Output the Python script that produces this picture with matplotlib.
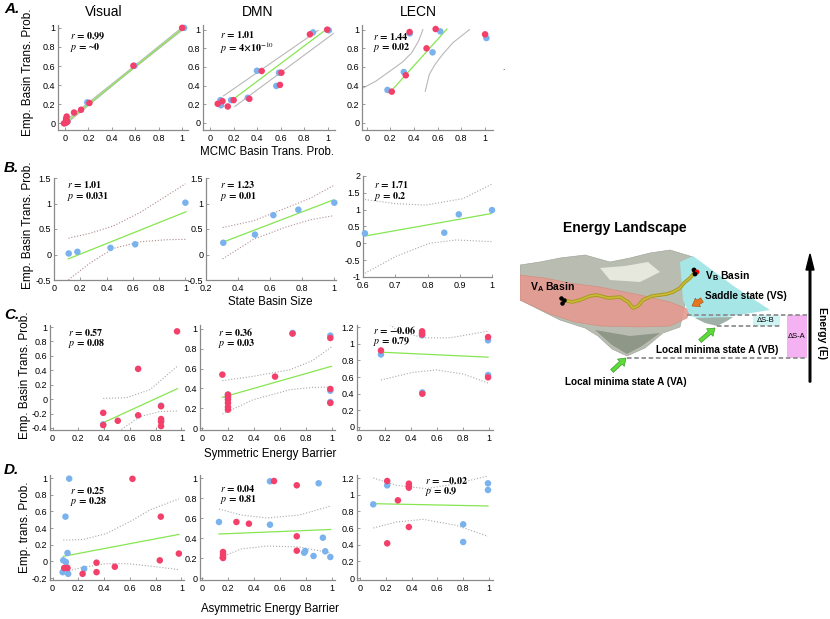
import numpy as np
import matplotlib.pyplot as plt
from matplotlib.patches import Polygon, Rectangle, FancyArrow

plt.rcParams['font.family'] = ['Liberation Sans', 'DejaVu Sans']
plt.rcParams['mathtext.fontset'] = 'stix'

W, H = 830, 619
RED = '#F2406A'
BLUE = '#7AB2EE'
GREEN = '#86E650'
GRAY = '#A8A8A8'

# ---------------- data (x, y) ----------------
# Row A: empirical vs MCMC basin transition probability
a_vis_blue = [(1.017, 1.0), (0.593, 0.603), (0.19, 0.22), (0.01, 0.035), (0.02, 0.018), (0.0, 0.0)]
a_vis_red = [(1.0, 1.0), (0.584, 0.603), (0.208, 0.213), (0.137, 0.142), (0.077, 0.113),
             (0.014, 0.071), (0.009, 0.046), (0.02, 0.018), (-0.009, 0.0), (0.009, 0.007)]
a_vis_fit = [(-0.01, -0.007), (1.01, 1.0)]
a_vis_ci_hi = [(-0.01, 0.012), (0.5, 0.51), (1.01, 1.015)]
a_vis_ci_lo = [(-0.01, -0.025), (0.5, 0.49), (1.01, 0.985)]

a_dmn_blue = [(0.088, 0.245), (0.093, 0.19), (0.178, 0.245), (0.32, 0.27), (0.398, 0.56),
              (0.585, 0.539), (0.562, 0.397), (0.873, 0.97), (1.008, 0.993)]
a_dmn_red = [(0.065, 0.206), (0.105, 0.234), (0.15, 0.177), (0.2, 0.245), (0.333, 0.259),
             (0.438, 0.557), (0.605, 0.539), (0.593, 0.408), (0.847, 0.95), (0.994, 1.0)]
a_dmn_fit = [(0.19, 0.248), (0.975, 0.993)]
a_dmn_ci_hi = [(0.113, 0.29), (0.918, 0.993)]
a_dmn_ci_lo = [(0.21, 0.177), (1.045, 0.957)]

a_lecn_blue = [(0.365, 0.96), (0.623, 0.982), (0.558, 0.757), (0.314, 0.546), (0.176, 0.354), (1.014, 0.91)]
a_lecn_red = [(0.363, 0.975), (0.584, 1.007), (0.507, 0.8), (0.331, 0.511), (0.212, 0.336), (1.003, 0.95)]
a_lecn_fit = [(0.212, 0.35), (0.68, 1.007)]
a_lecn_ci_hi = [(-0.048, 0.364), (0.08, 0.45), (0.19, 0.55), (0.3, 0.65), (0.38, 0.75), (0.44, 0.88), (0.476, 1.0)]
a_lecn_ci_lo = [(0.496, 0.34), (0.53, 0.52), (0.58, 0.63), (0.64, 0.73), (0.73, 0.86), (0.87, 1.0)]

# Row B: vs state basin size
b_vis_blue = [(0.112, 0.02), (0.178, 0.053), (0.43, 0.13), (0.618, 0.2), (1.0, 1.016)]
b_vis_fit = [(0.109, -0.086), (1.005, 0.838)]
b_vis_ci_hi = [(0.11, 0.32), (0.275, 0.416), (0.453, 0.56), (0.656, 0.825), (0.86, 1.155), (1.0, 1.386)]
b_vis_ci_lo = [(0.11, -0.495), (0.275, -0.165), (0.453, 0.12), (0.656, 0.25), (0.86, 0.29), (1.0, 0.297)]

b_dmn_blue = [(0.308, 0.23), (0.506, 0.39), (0.621, 0.772), (0.777, 0.878), (1.002, 1.016)]
b_dmn_fit = [(0.304, 0.24), (0.996, 1.07)]
b_dmn_ci_hi = [(0.304, 0.528), (0.496, 0.66), (0.683, 0.89), (0.85, 1.1), (0.996, 1.35)]
b_dmn_ci_lo = [(0.304, -0.086), (0.496, 0.297), (0.683, 0.52), (0.85, 0.68), (0.996, 0.76)]

b_lecn_blue = [(0.606, 0.296), (0.852, 0.316), (0.897, 0.86), (1.0, 0.987)]
b_lecn_fit = [(0.606, 0.217), (1.0, 0.888)]
b_lecn_ci_hi = [(0.606, 1.30), (0.70, 1.18), (0.795, 1.135), (0.91, 1.33), (1.0, 1.76)]
b_lecn_ci_lo = [(0.606, -0.89), (0.70, -0.395), (0.806, 0.0), (0.889, 0.1), (1.0, 0.05)]

# Row C: vs symmetric energy barrier
c_vis_blue = [(0.842, -0.09), (0.842, -0.3), (0.393, -0.35)]
c_vis_red = [(0.966, 0.94), (0.664, 0.42), (0.393, -0.19), (0.393, -0.36), (0.506, -0.3),
             (0.664, -0.224), (0.842, -0.098), (0.842, -0.276), (0.842, -0.313), (0.842, -0.374)]
c_vis_fit = [(0.393, -0.327), (0.969, 0.145)]
c_vis_ci_hi = [(0.393, 0.01), (0.574, 0.02), (0.755, 0.13), (0.969, 0.458)]
c_vis_ci_lo = [(0.535, -0.42), (0.677, -0.243), (0.832, -0.173), (0.969, -0.164)]

c_dmn_blue = [(0.2, 0.337), (0.2, 0.3), (0.698, 0.96), (0.987, 0.933), (0.987, 0.377), (0.987, 0.263)]
c_dmn_red = [(0.157, 0.539), (0.2, 0.337), (0.2, 0.313), (0.2, 0.286), (0.2, 0.253), (0.2, 0.212),
             (0.2, 0.185), (0.562, 0.519), (0.696, 0.953), (0.987, 0.909), (0.987, 0.394), (0.987, 0.253)]
c_dmn_fit = [(0.157, 0.31), (0.995, 0.623)]
c_dmn_ci_hi = [(0.157, 0.478), (0.394, 0.522), (0.678, 0.589), (0.85, 0.68), (0.995, 0.818)]
c_dmn_ci_lo = [(0.157, 0.141), (0.394, 0.286), (0.678, 0.387), (0.85, 0.41), (0.995, 0.414)]

c_lecn_blue = [(0.169, 0.87), (0.485, 1.1), (0.487, 0.415), (0.992, 1.04), (0.992, 0.624)]
c_lecn_red = [(0.169, 0.918), (0.485, 1.148), (0.485, 1.124), (0.485, 1.11), (0.487, 0.399),
              (0.992, 1.079), (0.992, 0.596)]
c_lecn_fit = [(0.169, 0.898), (0.992, 0.838)]
c_lecn_ci_hi = [(0.169, 1.32), (0.3, 1.15), (0.5, 1.07), (0.7, 1.07), (0.992, 1.15)]
c_lecn_ci_lo = [(0.169, 0.564), (0.415, 0.656), (0.595, 0.685), (0.8, 0.636), (0.992, 0.528)]

# Row D: vs asymmetric energy barrier
d_vis_blue = [(0.129, 0.992), (0.1, 0.536), (0.116, 0.1), (0.083, 0.012), (0.103, -0.008),
              (0.078, -0.13), (0.121, -0.15), (0.245, -0.09), (0.11, -0.07)]
d_vis_red = [(0.62, 0.99), (0.84, 0.536), (0.98, 0.093), (0.832, 0.012), (0.09, -0.08),
             (0.116, -0.08), (0.233, -0.15), (0.341, -0.13), (0.341, -0.016), (0.483, -0.065)]
d_vis_fit = [(0.083, 0.06), (0.98, 0.323)]
d_vis_ci_hi = [(0.083, 0.254), (0.238, 0.262), (0.419, 0.335), (0.625, 0.496), (0.755, 0.617), (0.98, 0.75)]
d_vis_ci_lo = [(0.083, -0.13), (0.238, -0.07), (0.419, -0.028), (0.574, -0.028), (0.755, -0.056), (0.98, -0.1)]

d_dmn_blue = [(0.131, 0.56), (0.523, 0.533), (0.523, 0.967), (0.897, 0.947), (0.93, 0.403),
              (0.948, 0.267), (0.987, 0.21), (0.858, 0.22), (0.794, 0.27), (0.786, 0.253)]
d_dmn_red = [(0.554, 0.97), (0.729, 0.927), (0.265, 0.56), (0.361, 0.543), (0.729, 0.417),
             (0.729, 0.273), (0.162, 0.26), (0.162, 0.237), (0.162, 0.217), (0.162, 0.2)]
d_dmn_fit = [(0.131, 0.44), (0.99, 0.485)]
d_dmn_ci_hi = [(0.131, 0.69), (0.3, 0.63), (0.5, 0.6), (0.75, 0.63), (0.99, 0.72)]
d_dmn_ci_lo = [(0.131, 0.2), (0.3, 0.29), (0.5, 0.32), (0.75, 0.31), (0.99, 0.25)]

d_lecn_blue = [(0.211, 1.112), (0.103, 0.884), (0.8, 0.644), (0.8, 0.432), (0.992, 1.136), (0.992, 1.056)]
d_lecn_red = [(0.211, 1.164), (0.379, 1.132), (0.379, 1.104), (0.379, 1.084), (0.294, 0.932),
              (0.379, 0.612), (0.211, 0.416)]
d_lecn_fit = [(0.103, 0.892), (0.992, 0.864)]
d_lecn_ci_hi = [(0.103, 1.2), (0.284, 1.112), (0.515, 1.072), (0.747, 1.132), (0.992, 1.224)]
d_lecn_ci_lo = [(0.103, 0.6), (0.284, 0.672), (0.49, 0.704), (0.747, 0.632), (0.992, 0.5)]

stats = {
    'A': [('0.99', '~0'), ('1.01', '4\u00d710$^{-10}$'), ('1.44', '0.02')],
    'B': [('1.01', '0.031'), ('1.23', '0.01'), ('1.71', '0.2')],
    'C': [('0.57', '0.08'), ('0.36', '0.03'), ('\u22120.06', '0.79')],
    'D': [('0.25', '0.28'), ('0.04', '0.81'), ('\u22120.02', '0.9')],
}

col_titles = ['Visual', 'DMN', 'LECN']


def add_ax(l, t, r, b):
    return fig.add_axes([l / W, 1 - b / H, (r - l) / W, (b - t) / H])


def xy(pts):
    a = np.array(pts, dtype=float)
    return a[:, 0], a[:, 1]


def style(ax, xlim, ylim, xticks, yticks):
    ax.set_xlim(*xlim)
    ax.set_ylim(*ylim)
    ax.set_xticks(xticks)
    ax.set_yticks(yticks)
    ax.set_xticklabels([('%g' % v) for v in xticks])
    ax.set_yticklabels([('%g' % v) for v in yticks])
    for s in ['top', 'right']:
        ax.spines[s].set_visible(False)
    for s in ['left', 'bottom']:
        ax.spines[s].set_color('#8a8a8a')
        ax.spines[s].set_linewidth(0.9)
    ax.tick_params(direction='in', length=2.5, width=0.6, color='#8a8a8a',
                   labelsize=6.5, pad=3)
    ax.tick_params(axis='y', pad=2)
    ax.patch.set_alpha(0)


def draw(ax, blue, red, fit, hi, lo, ci_color=GRAY, ci_ls=':'):
    if blue:
        x, y = xy(blue)
        ax.scatter(x, y, s=22, color=BLUE, edgecolors='none', zorder=3, clip_on=False)
    if red:
        x, y = xy(red)
        ax.scatter(x, y, s=22, color=RED, edgecolors='none', zorder=4, clip_on=False)
    x, y = xy(fit)
    ax.plot(x, y, color=GREEN, lw=0.9, zorder=2)
    for c in (hi, lo):
        x, y = xy(c)
        ax.plot(x, y, color=ci_color, lw=0.8, ls=ci_ls, zorder=1)


def stat_text(x, y, r, p, gap=11):
    fig.text(x / W, 1 - y / H, '$r$ = ' + r, family='STIXGeneral', fontsize=7.2,
             weight='bold', va='center')
    fig.text(x / W, 1 - (y + gap) / H, '$p$ = ' + p, family='STIXGeneral', fontsize=7.2,
             weight='bold', va='center')


fig = plt.figure(figsize=(W / 100, H / 100), dpi=100)

t02 = [0, 0.2, 0.4, 0.6, 0.8, 1]

# Row A
ax = add_ax(58, 25, 188, 130)
style(ax, (-0.06, 1.05), (-0.07, 1.03), t02, t02)
draw(ax, a_vis_blue, a_vis_red, a_vis_fit, a_vis_ci_hi, a_vis_ci_lo, '#B8B8B8', '-')
ax = add_ax(203, 25, 335, 130)
style(ax, (-0.06, 1.06), (-0.075, 1.05), t02, t02)
draw(ax, a_dmn_blue, a_dmn_red, a_dmn_fit, a_dmn_ci_hi, a_dmn_ci_lo, '#B8B8B8', '-')
ax = add_ax(362, 25, 493, 130)
style(ax, (-0.04, 1.07), (-0.075, 1.05), t02, t02)
draw(ax, a_lecn_blue, a_lecn_red, a_lecn_fit, a_lecn_ci_hi, a_lecn_ci_lo, '#B8B8B8', '-')

# Row B
tb = [-0.5, 0, 0.5, 1, 1.5]
ax = add_ax(54, 178, 188, 280)
style(ax, (0, 1.02), (-0.5, 1.5), t02, tb)
draw(ax, b_vis_blue, None, b_vis_fit, b_vis_ci_hi, b_vis_ci_lo, '#B08888')
ax = add_ax(206, 178, 336, 280)
style(ax, (0.2, 1.0125), (-0.5, 1.5), [0.2, 0.4, 0.6, 0.8, 1], tb)
draw(ax, b_dmn_blue, None, b_dmn_fit, b_dmn_ci_hi, b_dmn_ci_lo, '#B09090')
ax = add_ax(363, 176, 492, 277)
style(ax, (0.6, 1.0), (-1, 2), [0.6, 0.7, 0.8, 0.9, 1], [-1, -0.5, 0, 0.5, 1, 1.5, 2])
draw(ax, b_lecn_blue, None, b_lecn_fit, b_lecn_ci_hi, b_lecn_ci_lo)

# Row C
ax = add_ax(50, 325, 184, 430)
style(ax, (-0.02, 1.02), (-0.428, 1.028), t02, [-0.4, -0.2, 0, 0.2, 0.4, 0.6, 0.8, 1])
draw(ax, c_vis_blue, c_vis_red, c_vis_fit, c_vis_ci_hi, c_vis_ci_lo)
ax = add_ax(200, 325, 335, 430)
style(ax, (-0.015, 1.023), (-0.02, 1.04), t02, t02)
draw(ax, c_dmn_blue, c_dmn_red, c_dmn_fit, c_dmn_ci_hi, c_dmn_ci_lo)
ax = add_ax(357, 325, 493, 430)
style(ax, (-0.015, 1.03), (-0.036, 1.224), t02, [0, 0.2, 0.4, 0.6, 0.8, 1, 1.2])
draw(ax, c_lecn_blue, c_lecn_red, c_lecn_fit, c_lecn_ci_hi, c_lecn_ci_lo)

# Row D
ax = add_ax(50, 475, 184, 580)
style(ax, (-0.02, 1.02), (-0.224, 1.036), t02, [-0.2, 0, 0.2, 0.4, 0.6, 0.8, 1])
draw(ax, d_vis_blue, d_vis_red, d_vis_fit, d_vis_ci_hi, d_vis_ci_lo)
ax = add_ax(200, 475, 335, 580)
style(ax, (-0.015, 1.023), (-0.02, 1.03), t02, t02)
draw(ax, d_dmn_blue, d_dmn_red, d_dmn_fit, d_dmn_ci_hi, d_dmn_ci_lo)
ax = add_ax(357, 475, 493, 580)
style(ax, (-0.023, 1.031), (-0.024, 1.236), t02, [0, 0.2, 0.4, 0.6, 0.8, 1, 1.2])
draw(ax, d_lecn_blue, d_lecn_red, d_lecn_fit, d_lecn_ci_hi, d_lecn_ci_lo)

# statistics text
stat_pos = {
    'A': [(70, 36), (220, 35), (373, 36)],
    'B': [(67, 185), (220, 185), (374, 185)],
    'C': [(68, 332), (218, 332), (373, 330)],
    'D': [(70, 490), (220, 488), (425, 481)],
}
for row in 'ABCD':
    for i, ((px, py), (r, p)) in enumerate(zip(stat_pos[row], stats[row])):
        stat_text(px, py, r, p, 13 if '^' in p else 11)

# titles, letters, labels
for cx, t in zip([104, 258, 418], col_titles):
    fig.text(cx / W, 1 - 12 / H, t, fontsize=10, ha='center', va='center')
for lab, y in zip('ABCD', [9, 168, 315, 470]):
    fig.text(4 / W, 1 - y / H, lab + '.', fontsize=11, weight='bold', style='italic',
             va='center')
for x, y, t in zip([28, 28, 25], [72, 225, 375], ['Emp. Basin Trans. Prob.'] * 3):
    fig.text(x / W, 1 - y / H, t, fontsize=8.5, rotation=90, ha='center', va='center')
fig.text(25 / W, 1 - 527 / H, 'Emp. trans. Prob.', fontsize=8.5, rotation=90,
         ha='center', va='center')
for x, y, t in zip([267, 270, 270, 270], [152, 302, 454, 609],
                   ['MCMC Basin Trans. Prob.', 'State Basin Size',
                    'Symmetric Energy Barrier', 'Asymmetric Energy Barrier']):
    fig.text(x / W, 1 - y / H, t, fontsize=8.3, ha='center', va='center')
fig.text(503 / W, 1 - 68 / H, '.', fontsize=6, ha='center', va='center')

# ---------------- energy landscape schematic ----------------
la = fig.add_axes([520 / W, 1 - 445 / H, 310 / W, 245 / H])
la.set_xlim(520, 830)
la.set_ylim(445, 200)
la.axis('off')
BF = ['Liberation Sans', 'DejaVu Sans']

gray_surf = [(520, 265), (540, 262), (560, 258), (585, 255), (610, 262), (630, 258), (650, 253),
             (670, 250), (693, 257), (686, 300), (680, 327), (663, 333), (645, 348), (627, 356),
             (612, 349), (598, 336), (585, 328), (560, 320), (520, 300)]
highlight = [(600, 268), (625, 266), (648, 262), (660, 272), (640, 282), (610, 280)]
well_shade = [(595, 330), (612, 345), (627, 354), (642, 346), (660, 333), (630, 336)]
pink = [(520, 275), (545, 278), (570, 283), (600, 287), (640, 295), (670, 302), (690, 310),
        (687, 318), (670, 326), (640, 327), (600, 326), (575, 322), (550, 314), (520, 300)]
cyan = [(680, 262), (693, 256), (712, 270), (735, 287), (770, 310), (745, 314), (720, 318),
        (705, 320), (690, 316), (683, 300)]
small_well = [(695, 318), (705, 323), (717, 326), (727, 321), (733, 317)]
path_x = [563, 572, 580, 590, 597, 608, 620, 628, 633, 638, 643, 652, 660, 667, 673, 680, 684, 690, 695]
path_y = [300, 302, 300, 296, 295, 298, 297, 302, 308, 306, 300, 296, 295, 294, 292, 288, 283, 278, 272]

la.add_patch(Polygon(gray_surf, closed=True, fc='#B9BDB1', ec='#9A9E94', lw=0.4))
la.add_patch(Polygon(highlight, closed=True, fc='#E6E8DE', ec='none'))
la.add_patch(Polygon(well_shade, closed=True, fc='#8F9788', ec='none'))
la.add_patch(Polygon(pink, closed=True, fc='#E59A90', ec='#D08878', lw=0.4, alpha=0.9))
la.add_patch(Polygon(cyan, closed=True, fc='#A6E6E6', ec='none'))
la.add_patch(Polygon(small_well, closed=True, fc='#9FB0A8', ec='none'))
la.plot(path_x, path_y, color='#A89B1C', lw=2.6, solid_capstyle='round')
la.plot(path_x, path_y, color='#C9BA3A', lw=1.2)
la.scatter([561, 564, 562], [298, 300, 303], s=5, color='black', zorder=5)
la.scatter([694, 697, 695], [270, 272, 274], s=6, color=['black', 'red', 'black'], zorder=5)

# dashed levels and delta boxes
la.add_patch(Rectangle((753, 315), 27, 11, fc='#CFF4F4', ec='none'))
la.add_patch(Rectangle((787, 315), 20, 43, fc='#F5B2F2', ec='none'))
la.plot([687, 807], [315, 315], color='#8F8F8F', ls=(0, (2.5, 1.5)), lw=1.3)
la.plot([717, 780], [326, 326], color='#8F8F8F', ls=(0, (2.5, 1.5)), lw=1.3)
la.plot([627, 807], [358, 358], color='#8F8F8F', ls=(0, (2.5, 1.5)), lw=1.3)
la.text(766, 321, '\u0394S-B', fontsize=5.5, ha='center', va='center', family=BF)
la.text(797, 337, '\u0394S-A', fontsize=5.5, ha='center', va='center', family=BF)

# arrows
la.add_patch(FancyArrow(810, 382, 0, -128, width=1.6, head_width=8, head_length=16,
                        color='black', length_includes_head=True))
la.add_patch(FancyArrow(702, 300, -10, 6, width=5, head_width=10, head_length=7,
                        fc='#E8761E', ec='#A04A10', lw=0.4, length_includes_head=True))
la.add_patch(FancyArrow(612, 371, 14, -13, width=4, head_width=10, head_length=7,
                        fc='#5BDA38', ec='#2E8A1E', lw=0.4, length_includes_head=True))
la.add_patch(FancyArrow(700, 341, 15, -13, width=4, head_width=10, head_length=7,
                        fc='#5BDA38', ec='#2E8A1E', lw=0.4, length_includes_head=True))

# labels
la.text(563, 228, 'Energy Landscape', fontsize=10, weight='bold', va='center', family=BF)
la.text(530, 287, 'V$\\mathregular{_A}$ Basin', fontsize=7.5, weight='bold', va='center', family=BF)
la.text(705, 276, 'V$\\mathregular{_B}$ Basin', fontsize=7.5, weight='bold', va='center', family=BF)
la.text(705, 296, 'Saddle state (VS)', fontsize=7.2, weight='bold', va='center', family=BF)
la.text(656, 350, 'Local minima state A (VB)', fontsize=7.2, weight='bold', va='center', family=BF)
la.text(565, 382, 'Local minima state A (VA)', fontsize=7.2, weight='bold', va='center', family=BF)
la.text(822, 333, 'Energy (E)', fontsize=7.5, weight='bold', rotation=-90, ha='center',
        va='center', family=BF)

fig.savefig('out.png', dpi=100)
